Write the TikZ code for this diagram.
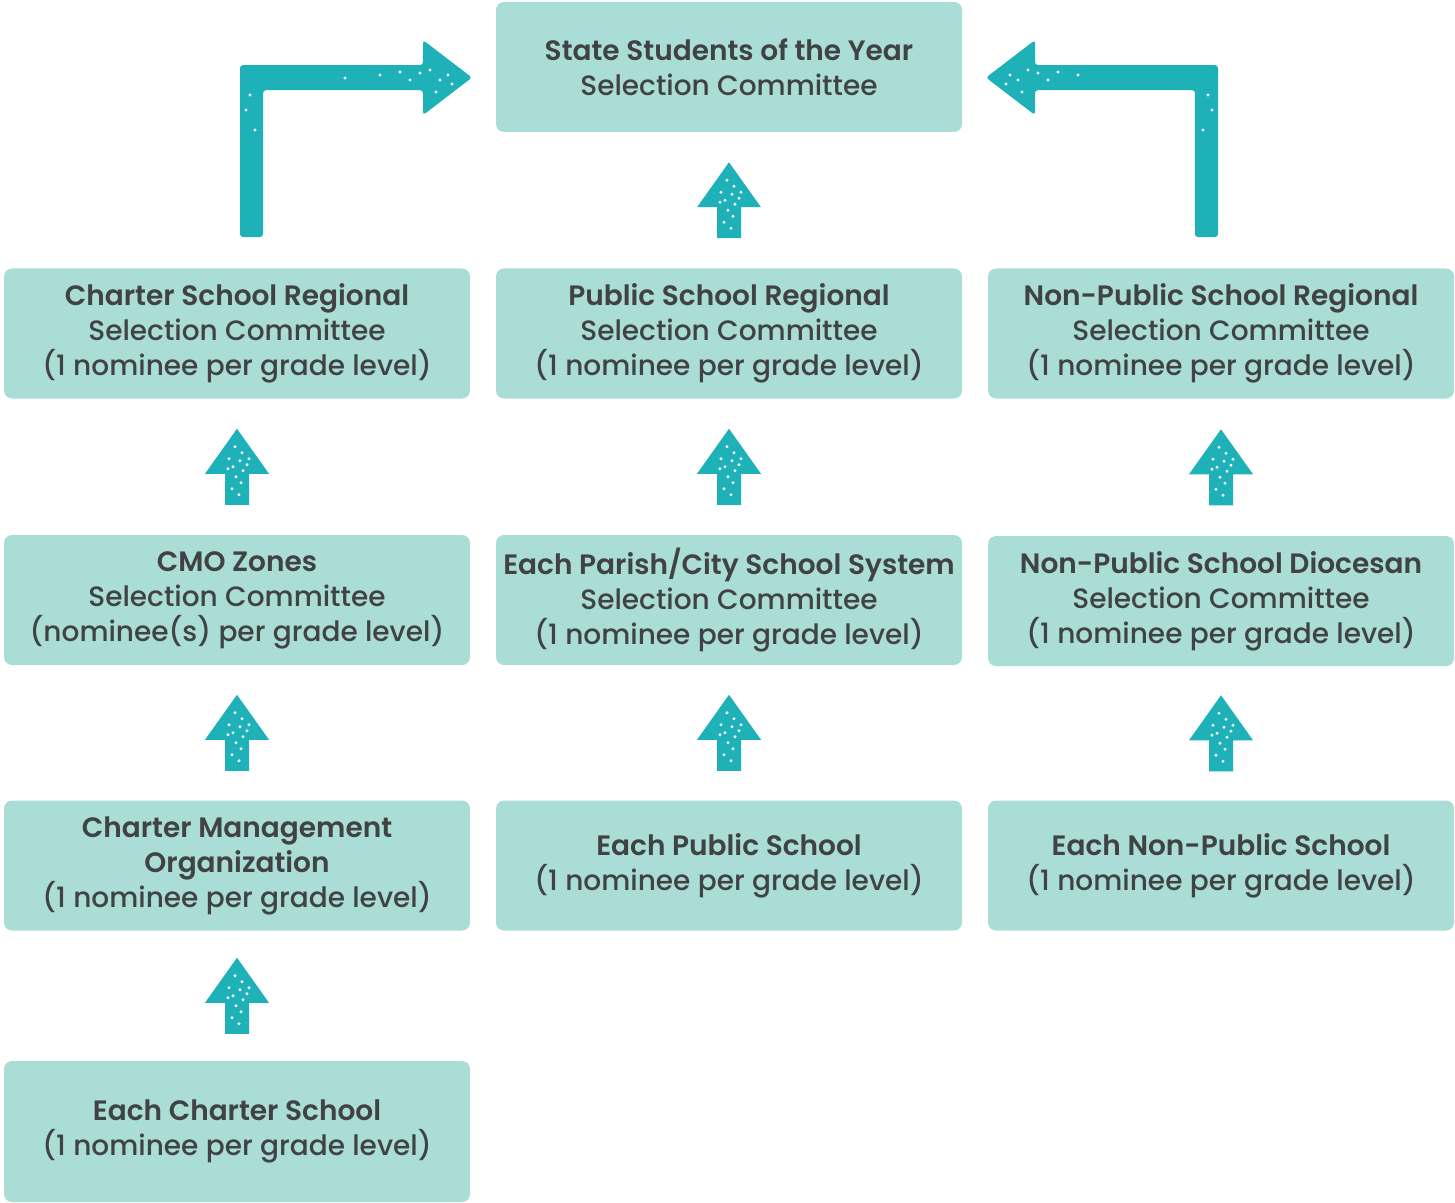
\documentclass[tikz,border=0pt]{standalone}
\usepackage{fontspec}
\setmainfont{Poppins Medium}[BoldFont={Poppins SemiBold}]
\usetikzlibrary{calc}
\definecolor{boxc}{HTML}{A9DDD5}
\definecolor{txtc}{HTML}{404243}
\definecolor{arrc}{HTML}{1EB1B7}
\tikzset{
  box/.style={fill=boxc, rounded corners=4pt, minimum width=233pt, minimum height=65pt,
    align=center, text=txtc, font=\fontsize{14}{17.5}\selectfont, inner sep=0pt},
  dots/.style={fill=white},
  uparrow/.pic={
    \fill[arrc] (0,-38) -- (32,7) -- (12,7) -- (12,38) -- (-12,38) -- (-12,7) -- (-32,7) -- cycle;
    \foreach \p in {(-2,-20),(5,-14),(-8,-8),(3,-6),(10,-2),(-4,0),(6,4),(-1,10),(4,16),(-5,22),(2,28),(-9,2),(12,-8)}
      \fill[dots] \p circle (1.6);
  }
}
\begin{document}
\begin{tikzpicture}[x=0.5pt,y=-0.5pt]
\useasboundingbox (0,0) rectangle (1455,1203);
% nodes
\node[box] (top) at (729,67) {\textbf{State Students of the Year}\\Selection Committee};
\node[box] (r1a) at (237,333.5) {\textbf{Charter School Regional}\\Selection Committee\\(1 nominee per grade level)};
\node[box] (r1b) at (729,333.5) {\textbf{Public School Regional}\\Selection Committee\\(1 nominee per grade level)};
\node[box] (r1c) at (1221,333.5) {\textbf{Non-Public School Regional}\\Selection Committee\\(1 nominee per grade level)};
\node[box] (r2a) at (237,600) {\textbf{CMO Zones}\\Selection Committee\\(nominee(s) per grade level)};
\node[box] (r2b) at (729,600) {\textbf{Each Parish/City School System}\\Selection Committee\\(1 nominee per grade level)};
\node[box] (r2c) at (1221,601) {\textbf{Non-Public School Diocesan}\\Selection Committee\\(1 nominee per grade level)};
\node[box] (r3a) at (237,865.5) {\textbf{Charter Management}\\\textbf{Organization}\\(1 nominee per grade level)};
\node[box] (r3b) at (729,865.5) {\textbf{Each Public School}\\(1 nominee per grade level)};
\node[box] (r3c) at (1221,865.5) {\textbf{Each Non-Public School}\\(1 nominee per grade level)};
\node[box, minimum height=70.5pt] (r4a) at (237,1131.5) {\textbf{Each Charter School}\\(1 nominee per grade level)};
% up arrows
\pic at ($(r1b.north)!0.5!(top.south)$) {uparrow};
\pic at ($(r2a.north)!0.5!(r1a.south)$) {uparrow};
\pic at ($(r2b.north)!0.5!(r1b.south)$) {uparrow};
\pic at ($(r2c.north)!0.5!(r1c.south)$) {uparrow};
\pic at ($(r3a.north)!0.5!(r2a.south)$) {uparrow};
\pic at ($(r3b.north)!0.5!(r2b.south)$) {uparrow};
\pic at ($(r3c.north)!0.5!(r2c.south)$) {uparrow};
\pic at ($(r4a.north)!0.5!(r3a.south)$) {uparrow};
% L arrows
\coordinate (ls) at ($(r1a.north)+(3,-31)$);
\fill[arrc, rounded corners=1.5pt] (ls) -- ++(0,-172) -- ++(183,0) -- ++(0,-25) -- ++(49,37.5) -- ++(-49,37.5) -- ++(0,-25) -- ++(-160,0) -- ++(0,147) -- cycle;
\coordinate (rs) at ($(r1c.north)+(-3,-31)$);
\fill[arrc, rounded corners=1.5pt] (rs) -- ++(0,-172) -- ++(-183,0) -- ++(0,-25) -- ++(-49,37.5) -- ++(49,37.5) -- ++(0,-25) -- ++(160,0) -- ++(0,147) -- cycle;
\foreach \p in {(430,70),(440,80),(448,75),(420,73),(410,80),(400,72),(452,84),(436,92),(250,95),(246,110),(255,130),(380,75),(345,78)}
  \fill[dots] \p circle (1.6);
\foreach \p in {(1028,70),(1018,80),(1010,75),(1038,73),(1048,80),(1058,72),(1006,84),(1022,92),(1208,95),(1212,110),(1203,130),(1078,75)}
  \fill[dots] \p circle (1.6);
\end{tikzpicture}
\end{document}
